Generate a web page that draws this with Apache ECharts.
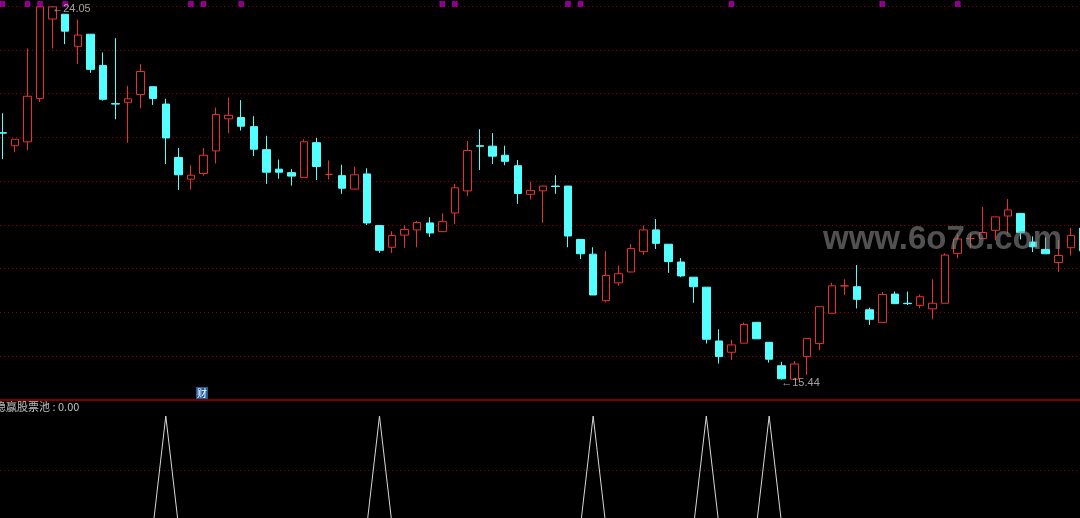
<!DOCTYPE html>
<html>
<head>
<meta charset="utf-8">
<style>
html,body{margin:0;padding:0;background:#000;}
#c{width:1080px;height:518px;}
</style>
<script src="https://cdn.jsdelivr.net/npm/echarts@6/dist/echarts.min.js"></script>
</head>
<body>
<div id="c"></div>
<script>
// ---- data ----
const openP = [
21.13, 20.83, 20.92, 21.92, 23.75, 23.86, 23.12, 23.40, 22.68, 21.80,
21.83, 22.01, 22.19, 21.79, 20.56, 20.06, 20.19, 20.71, 21.45, 21.48,
21.27, 20.74, 20.29, 20.21, 20.10, 20.90, 20.17, 20.14, 19.83, 20.18,
18.99, 18.49, 18.77, 18.89, 19.05, 18.85, 19.28, 19.79, 20.83, 20.82,
20.61, 20.37, 19.71, 19.79, 19.90, 19.90, 18.67, 18.33, 17.26, 17.67,
17.92, 18.39, 18.89, 18.56, 18.15, 17.80, 17.57, 16.33, 16.07, 16.28,
16.76, 16.30, 15.76, 15.45, 15.97, 16.27, 16.97, 17.60, 17.58, 17.05,
16.76, 17.41, 17.20, 17.15, 17.07, 17.20, 18.35, 18.69, 18.69, 18.88,
19.21, 19.27, 18.61, 18.44, 18.14, 18.48, 18.93];
const closeP = [
21.12, 20.98, 21.97, 24.03, 24.03, 23.47, 23.38, 22.59, 21.90, 21.79,
21.91, 22.54, 21.92, 21.01, 20.16, 20.15, 20.61, 21.55, 21.53, 21.28,
20.75, 20.22, 20.22, 20.13, 20.92, 20.35, 20.17, 19.85, 20.16, 19.05,
18.42, 18.76, 18.90, 19.06, 18.82, 19.08, 19.86, 20.72, 20.82, 20.59,
20.47, 19.73, 19.80, 19.90, 19.89, 18.75, 18.34, 17.39, 17.84, 17.88,
18.46, 18.89, 18.58, 18.16, 17.83, 17.58, 16.37, 15.97, 16.24, 16.71,
16.38, 15.91, 15.46, 15.80, 16.39, 17.12, 17.60, 17.60, 17.29, 16.83,
17.40, 17.19, 17.19, 17.35, 17.20, 18.31, 18.68, 18.69, 18.83, 19.19,
19.35, 18.83, 18.50, 18.34, 18.30, 18.76, 18.41];
const highP = [
21.58, 20.98, 23.07, 24.03, 24.05, 23.86, 23.74, 23.40, 22.98, 23.31,
22.21, 22.71, 22.19, 21.91, 20.78, 20.38, 20.78, 21.71, 21.94, 21.88,
21.51, 21.06, 20.51, 20.29, 20.98, 21.01, 20.49, 20.39, 20.35, 20.31,
19.00, 18.86, 19.00, 19.10, 19.18, 19.27, 19.95, 20.94, 21.21, 21.12,
20.83, 20.50, 20.00, 19.90, 20.15, 19.90, 18.67, 18.49, 18.40, 18.07,
18.56, 18.99, 19.14, 18.56, 18.24, 17.80, 17.57, 16.60, 16.36, 16.76,
16.76, 16.30, 15.85, 15.87, 16.40, 17.12, 17.67, 17.75, 18.08, 17.10,
17.46, 17.47, 17.47, 17.40, 17.75, 18.35, 18.80, 18.81, 19.42, 19.19,
19.60, 19.27, 18.74, 18.72, 18.66, 18.93, 18.98];
const lowP = [
20.52, 20.68, 20.73, 21.84, 23.07, 23.17, 22.71, 22.51, 21.87, 21.44,
20.90, 21.69, 21.77, 20.41, 19.81, 19.82, 20.14, 20.42, 21.12, 21.18,
20.59, 19.95, 20.07, 19.91, 20.10, 20.04, 20.05, 19.72, 19.83, 19.00,
18.36, 18.36, 18.48, 18.49, 18.73, 18.85, 19.02, 19.67, 20.27, 20.41,
20.38, 19.49, 19.59, 19.05, 19.72, 18.49, 18.22, 17.39, 17.22, 17.60,
17.92, 18.32, 18.45, 17.90, 17.80, 17.21, 16.27, 15.81, 15.89, 16.28,
16.38, 15.83, 15.44, 15.45, 15.55, 16.12, 16.97, 17.39, 17.08, 16.70,
16.76, 17.19, 17.16, 17.08, 16.83, 17.20, 18.24, 18.46, 18.69, 18.66,
18.81, 18.67, 18.38, 18.34, 17.92, 18.30, 18.36];
// days (indices) where the lower-panel indicator fires
const signalDays = [13, 30, 47, 56, 61];
// days with a magenta flag on the top edge
const flagDays = [0, 2, 3, 5, 15, 16, 19, 35, 36, 45, 46, 58, 70, 76];
const indicatorName = '稳赢股票池';
const indicatorValue = '0.00';

// ---- build ----
const categories = openP.map((_, i) => String(i + 1));
const candles = openP.map((o, i) => [o, closeP[i], lowP[i], highP[i]]);
const signal = categories.map((_, i) => signalDays.indexOf(i) >= 0 ? 1 : 0);
const flags = categories.map((_, i) => flagDays.indexOf(i) >= 0 ? 0.5 : '-');
let iMax = 0, iMin = 0;
highP.forEach((v, i) => { if (v > highP[iMax]) iMax = i; });
lowP.forEach((v, i) => { if (v < lowP[iMin]) iMin = i; });
const extremes = categories.map((_, i) => i === iMax ? highP[i] : (i === iMin ? lowP[i] : '-'));

const UP = '#e8302c', DOWN = '#54ffff', GRIDC = '#9a0000';
const gridL = -3.9, gridW = 1093.6;

const chart = echarts.init(document.getElementById('c'));
const hiddenX = (gi, line) => ({
  type: 'category', gridIndex: gi, data: categories, boundaryGap: true,
  axisLabel: {show: false}, axisTick: {show: false},
  axisLine: line ? {show: true, lineStyle: {color: '#800000', width: 2}} : {show: false},
  splitLine: {show: false}
});
const G = (top, height) => ({left: gridL, width: gridW, top: top, height: height,
  containLabel: false, outerBoundsMode: 'none'});
chart.setOption({
  animation: false,
  backgroundColor: '#000000',
  grid: [G(6, 394), G(416, 109), G(1, 6)],
  xAxis: [hiddenX(0, true), hiddenX(1, false), hiddenX(2, false)],
  yAxis: [
    {type: 'value', gridIndex: 0, min: 14.97, max: 24.05, show: false},
    {type: 'value', gridIndex: 0, min: 0, max: 9, interval: 1,
      axisLabel: {show: false}, axisTick: {show: false}, axisLine: {show: false},
      splitLine: {show: true, lineStyle: {color: GRIDC, type: [1, 3], width: 1}}},
    {type: 'value', gridIndex: 1, min: 0, max: 1, interval: 0.5,
      axisLabel: {show: false}, axisTick: {show: false}, axisLine: {show: false},
      splitLine: {show: true, lineStyle: {color: ['rgba(0,0,0,0)', GRIDC, 'rgba(0,0,0,0)'], type: [1, 3], width: 1}}},
    {type: 'value', gridIndex: 2, min: 0, max: 1, show: false}
  ],
  series: [
    {
      type: 'candlestick', xAxisIndex: 0, yAxisIndex: 0, data: candles,
      barWidth: 8,
      itemStyle: {
        color: '#000000', borderColor: UP,
        color0: DOWN, borderColor0: DOWN,
        borderColorDoji: UP, borderWidth: 1
      }
    },
    {
      type: 'scatter', xAxisIndex: 0, yAxisIndex: 0, data: extremes,
      symbolSize: 1, itemStyle: {color: 'rgba(0,0,0,0)'}, silent: true,
      label: {
        show: true, position: 'right', distance: 0, offset: [-1, 3],
        color: '#c8c8c8', fontSize: 11, fontFamily: 'Liberation Sans, Arial, sans-serif',
        formatter: p => '\u2190' + Number(p.value).toFixed(2)
      }
    },
    {
      type: 'line', xAxisIndex: 1, yAxisIndex: 2, data: signal,
      symbol: 'none', lineStyle: {color: '#d8d8d8', width: 1}
    },
    {
      type: 'scatter', xAxisIndex: 2, yAxisIndex: 3, data: flags,
      symbol: 'rect', symbolSize: 5,
      itemStyle: {color: '#b000b0', borderColor: '#e000e0', borderWidth: 0.5}
    }
  ],
  graphic: [
    {type: 'text', x: -5, y: 401, z: 10,
      style: {text: indicatorName + ' : ' + indicatorValue, fill: '#c0c0c0',
        font: '11px "Noto Sans CJK SC", sans-serif'}},
    {type: 'group', x: 196, y: 387, z: 10, children: [
      {type: 'rect', shape: {x: 0, y: 0, width: 12, height: 12}, style: {fill: '#1f5d9e'}},
      {type: 'text', x: 6, y: 6, style: {text: '财', fill: '#ffffff', align: 'center', verticalAlign: 'middle',
        font: '10px "Noto Sans CJK SC", sans-serif'}}
    ]},
    {type: 'text', x: 823, y: 240, z: 20,
      style: {text: 'www.6o7o.com', fill: 'rgba(135,135,135,0.6)', verticalAlign: 'middle',
        font: 'bold 33px "Liberation Sans", Arial, sans-serif'}}
  ]
});
</script>
</body>
</html>
